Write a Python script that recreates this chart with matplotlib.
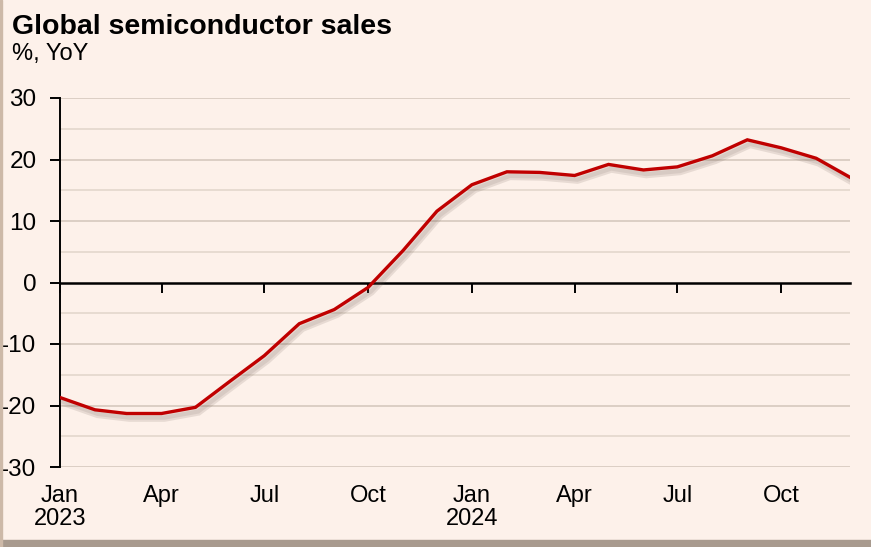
import matplotlib
matplotlib.use('Agg')
import matplotlib.pyplot as plt
import matplotlib.patheffects as pe
from matplotlib.patches import Rectangle
import pandas as pd

plt.rcParams['font.family'] = ['Liberation Sans', 'DejaVu Sans']

# monthly YoY growth, Jan 2023 - Dec 2024
months = pd.date_range('2023-01-01', '2024-12-01', freq='MS')
sales_yoy = [-18.7, -20.7, -21.3, -21.3, -20.3, -16.0, -11.9, -6.7, -4.4, -0.8, 5.2, 11.6,
             15.9, 18.0, 17.9, 17.4, 19.2, 18.3, 18.8, 20.6, 23.2, 21.9, 20.2, 17.1]
tick_months = pd.date_range('2023-01-01', '2024-10-01', freq='QS')
tick_labels = ['Jan\n2023', 'Apr', 'Jul', 'Oct', 'Jan\n2024', 'Apr', 'Jul', 'Oct']
y_ticks = [-30, -20, -10, 0, 10, 20, 30]

bg = '#fdf1ea'
fig = plt.figure(figsize=(8.71, 5.47), dpi=100, facecolor=bg)
ax = fig.add_axes([60/871, 1-467/547, 790/871, 369/547])
ax.set_facecolor(bg)

# frame / shadow around the figure
fig.patches.append(Rectangle((0, 0), 1, 7/547, transform=fig.transFigure,
                             color='#a89a8e', zorder=0))
fig.patches.append(Rectangle((0, 0), 2/871, 1, transform=fig.transFigure,
                             color='#cdb9a8', zorder=0))

for v in range(-30, 31, 5):
    if v == 0:
        continue
    ax.axhline(v, color='#d6c9be' if v % 10 == 0 else '#e3d7cd', lw=1.2, zorder=1)

ax.plot(months, sales_yoy, color='#c00000', lw=2.4, zorder=3,
        solid_joinstyle='miter',
        path_effects=[pe.SimpleLineShadow(offset=(2, -3), shadow_color='#6b5a50', alpha=0.15, linewidth=6),
                      pe.SimpleLineShadow(offset=(2, -3), shadow_color='#6b5a50', alpha=0.12, linewidth=3),
                      pe.Normal()])

ax.set_xlim(months[0], months[-1])
ax.set_ylim(-30, 30)

for s in ['top', 'right']:
    ax.spines[s].set_visible(False)
ax.spines['left'].set_linewidth(1.4)
ax.spines['bottom'].set_position(('data', 0))
ax.spines['bottom'].set_linewidth(1.8)
ax.spines['bottom'].set_zorder(2)

ax.set_yticks(y_ticks)
ax.set_yticklabels([str(v) for v in y_ticks])
ax.tick_params(axis='y', length=7, width=1.4, pad=10, labelsize=17.5)

ax.set_xticks(tick_months)
ax.tick_params(axis='x', length=7, width=1.4, direction='out', labelbottom=False)

sec = ax.secondary_xaxis(0)
sec.set_xticks(tick_months)
sec.set_xticklabels(tick_labels, linespacing=1.05)
sec.tick_params(length=0, pad=13, labelsize=17)
sec.spines['bottom'].set_visible(False)

fig.text(12/871, 1-34/547, 'Global semiconductor sales', fontsize=20.5, fontweight='bold',
         ha='left', va='baseline')
fig.text(12/871, 1-60/547, '%, YoY', fontsize=17, ha='left', va='baseline')

fig.savefig('out.png', dpi=100, facecolor=bg)
